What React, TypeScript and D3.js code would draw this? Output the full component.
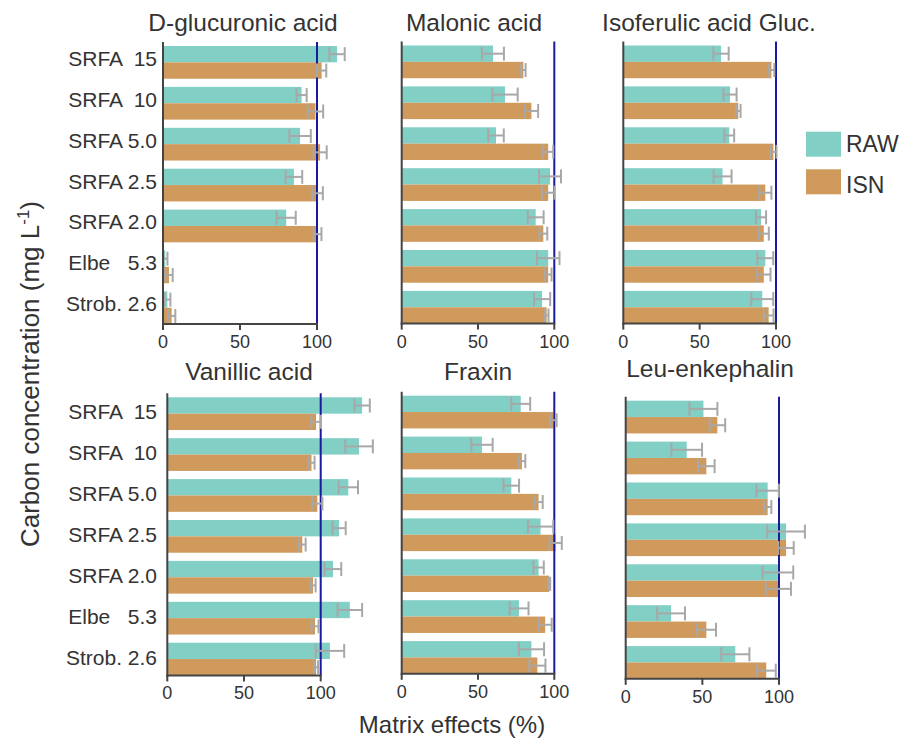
import React from "react";
import * as d3 from "d3";

// ---------- data ----------
const categories = ["SRFA  15", "SRFA  10", "SRFA 5.0", "SRFA 2.5", "SRFA 2.0", "Elbe   5.3", "Strob. 2.6"];
const seriesNames = ["RAW", "ISN"];
const tickValues = [0, 50, 100];
const titles = ["D-glucuronic acid", "Malonic acid", "Isoferulic acid Gluc.", "Vanillic acid", "Fraxin", "Leu-enkephalin"];

const glucRaw = [113, 90, 89, 85, 80, 1.5, 2.8];
const glucRawErr = [5, 3.3, 7, 5.4, 6.2, 1.4, 2];
const glucIsn = [103, 99, 102, 100.4, 100.4, 3.9, 5.6];
const glucIsnErr = [3, 5, 4.3, 3.4, 2.5, 2.4, 2.4];

const malonRaw = [59.8, 67.7, 61.8, 97.2, 87.8, 96, 92];
const malonRawErr = [7.2, 8.3, 5.1, 7.2, 5.2, 7.4, 5.3];
const malonIsn = [79.7, 85, 96, 96, 92.8, 96, 95];
const malonIsnErr = [1.5, 4.4, 3.3, 4.1, 2.6, 2.2, 1.2];

const isoRaw = [64, 69.9, 69.4, 65, 90.2, 93, 91];
const isoRawErr = [5, 4.3, 3.2, 5.9, 3.3, 5.2, 7.2];
const isoIsn = [97, 75.3, 98.3, 93, 92, 92, 95.2];
const isoIsnErr = [1.9, 1.5, 2, 4, 3.3, 4.4, 3.2];

const vanRaw = [127, 125, 118, 112, 108, 119, 106];
const vanRawErr = [5, 9, 6.3, 4.3, 5.4, 8, 9.3];
const vanIsn = [97, 94, 97.8, 88, 95, 96.3, 97];
const vanIsnErr = [3.2, 2, 3.3, 2.2, 1.7, 2.3, 1.3];

const fraxRaw = [78, 52.6, 71.8, 91, 89.7, 76.9, 85];
const fraxRawErr = [6.2, 7, 5.1, 8.3, 3.4, 6.2, 8.3];
const fraxIsn = [99.3, 78.8, 89.7, 100.9, 96.7, 94, 88.9];
const fraxIsnErr = [2.2, 2.2, 2.7, 4, 0.6, 4.3, 5.3];

const leuRaw = [50.7, 39.8, 92.6, 104.6, 99.3, 29.6, 71.5];
const leuRawErr = [9.1, 10, 7.3, 12.3, 10, 9.1, 9.2];
const leuIsn = [59.8, 52.6, 92.6, 104.6, 99.6, 52.6, 91.7];
const leuIsnErr = [5.1, 5.4, 2.4, 5, 8.2, 6.3, 6.2];

const panelData = [
  { raw: glucRaw, rawErr: glucRawErr, isn: glucIsn, isnErr: glucIsnErr },
  { raw: malonRaw, rawErr: malonRawErr, isn: malonIsn, isnErr: malonIsnErr },
  { raw: isoRaw, rawErr: isoRawErr, isn: isoIsn, isnErr: isoIsnErr },
  { raw: vanRaw, rawErr: vanRawErr, isn: vanIsn, isnErr: vanIsnErr },
  { raw: fraxRaw, rawErr: fraxRawErr, isn: fraxIsn, isnErr: fraxIsnErr },
  { raw: leuRaw, rawErr: leuRawErr, isn: leuIsn, isnErr: leuIsnErr },
];

// ---------- layout ----------
const W = 902;
const H = 738;
const FONT = "'Liberation Sans', Arial, Helvetica, sans-serif";
const TEAL = "#81cfc5";
const ORANGE = "#cf9a5c";
const NAVY = "#1a1a9c";
const GREY = "#a8a8a8";
const AXIS = "#444";
const TEXT = "#333";
const STEP = 40.9;
const PAD_INNER = 0.2;

const layout = [
  { x0: 163, x1: 317, y0: 46, titleX: 243, titleY: 31, labels: true, labelShift: -4 },
  { x0: 401.7, x1: 554.3, y0: 45.5, titleX: 474, titleY: 31, labels: false, labelShift: 0 },
  { x0: 623.3, x1: 776, y0: 45.5, titleX: 709, titleY: 31, labels: false, labelShift: 0 },
  { x0: 167.3, x1: 320.7, y0: 397.3, titleX: 249, titleY: 380, labels: true, labelShift: -2 },
  { x0: 401.7, x1: 554.3, y0: 395.7, titleX: 478, titleY: 380, labels: false, labelShift: 0 },
  { x0: 625.7, x1: 779, y0: 400.7, titleX: 710, titleY: 377, labels: false, labelShift: 0 },
];

function Panel({ idx }: { idx: number }) {
  const L = layout[idx];
  const d = panelData[idx];
  const R = STEP * (categories.length - PAD_INNER);
  const y = d3.scaleBand<string>().domain(categories).range([L.y0, L.y0 + R]).paddingInner(PAD_INNER).paddingOuter(0);
  const sub = d3.scaleBand<string>().domain(seriesNames).range([0, y.bandwidth()]).padding(0);
  const x = d3.scaleLinear().domain([0, 100]).range([L.x0, L.x1]);
  const axisTop = L.y0 - 4;
  const axisBottom = L.y0 + R;
  const bh = sub.bandwidth();
  const series = [
    { name: "RAW", vals: d.raw, errs: d.rawErr, color: TEAL },
    { name: "ISN", vals: d.isn, errs: d.isnErr, color: ORANGE },
  ];
  return (
    <g>
      <text x={L.titleX} y={L.titleY} textAnchor="middle" fontSize={24.5} fill={TEXT}>
        {titles[idx]}
      </text>
      {series.map((s) =>
        categories.map((c, i) => (
          <rect
            key={s.name + c}
            x={x(0)}
            y={(y(c) as number) + (sub(s.name) as number)}
            width={x(s.vals[i]) - x(0)}
            height={bh}
            fill={s.color}
          />
        ))
      )}
      <line x1={x(100)} x2={x(100)} y1={axisTop} y2={axisBottom} stroke={NAVY} strokeWidth={2} />
      {series.map((s) =>
        categories.map((c, i) => {
          const cy = (y(c) as number) + (sub(s.name) as number) + bh / 2;
          const lo = x(s.vals[i] - s.errs[i]);
          const hi = x(s.vals[i] + s.errs[i]);
          const ch = 7;
          return (
            <g key={"e" + s.name + c} stroke={GREY} strokeWidth={2} fill="none">
              <line x1={lo} x2={hi} y1={cy} y2={cy} />
              <line x1={lo} x2={lo} y1={cy - ch} y2={cy + ch} />
              <line x1={hi} x2={hi} y1={cy - ch} y2={cy + ch} />
            </g>
          );
        })
      )}
      <line x1={x(0)} x2={x(0)} y1={axisTop} y2={axisBottom + 1} stroke={AXIS} strokeWidth={2} />
      <line x1={x(0) - 1} x2={x(100) + 1} y1={axisBottom} y2={axisBottom} stroke={AXIS} strokeWidth={2} />
      {tickValues.map((t) => (
        <g key={"t" + t}>
          <line x1={x(t)} x2={x(t)} y1={axisBottom} y2={axisBottom + 6} stroke={AXIS} strokeWidth={2} />
          <text x={x(t)} y={axisBottom + 24} textAnchor="middle" fontSize={18} fill={TEXT}>
            {t}
          </text>
        </g>
      ))}
      {L.labels &&
        categories.map((c) => (
          <text
            key={"l" + c}
            x={157}
            y={(y(c) as number) + y.bandwidth() / 2 + L.labelShift}
            textAnchor="end"
            dominantBaseline="central"
            fontSize={21}
            fill={TEXT}
            style={{ whiteSpace: "pre" }}
          >
            {c}
          </text>
        ))}
    </g>
  );
}

export default function App() {
  return (
    <svg
      width={W}
      height={H}
      viewBox={`0 0 ${W} ${H}`}
      style={{ position: "absolute", left: 0, top: 0, background: "#fff" }}
      fontFamily={FONT}
    >
      <rect x={0} y={0} width={W} height={H} fill="#fff" />
      {layout.map((_, i) => (
        <Panel key={i} idx={i} />
      ))}
      {/* legend */}
      {seriesNames.map((s, i) => (
        <g key={"lg" + s}>
          <rect x={806} y={131.7 + i * 37.6} width={35} height={25} fill={i === 0 ? TEAL : ORANGE} />
          <text x={846} y={152 + i * 41} fontSize={23} fill={TEXT}>
            {s}
          </text>
        </g>
      ))}
      {/* axis titles */}
      <text x={452} y={733} textAnchor="middle" fontSize={24} fill={TEXT}>
        Matrix effects (%)
      </text>
      <text transform="translate(39,374) rotate(-90)" textAnchor="middle" fontSize={26} fill={TEXT}>
        Carbon concentration (mg L
        <tspan fontSize={17} dy={-10}>-1</tspan>
        <tspan dy={10}>)</tspan>
      </text>
    </svg>
  );
}
